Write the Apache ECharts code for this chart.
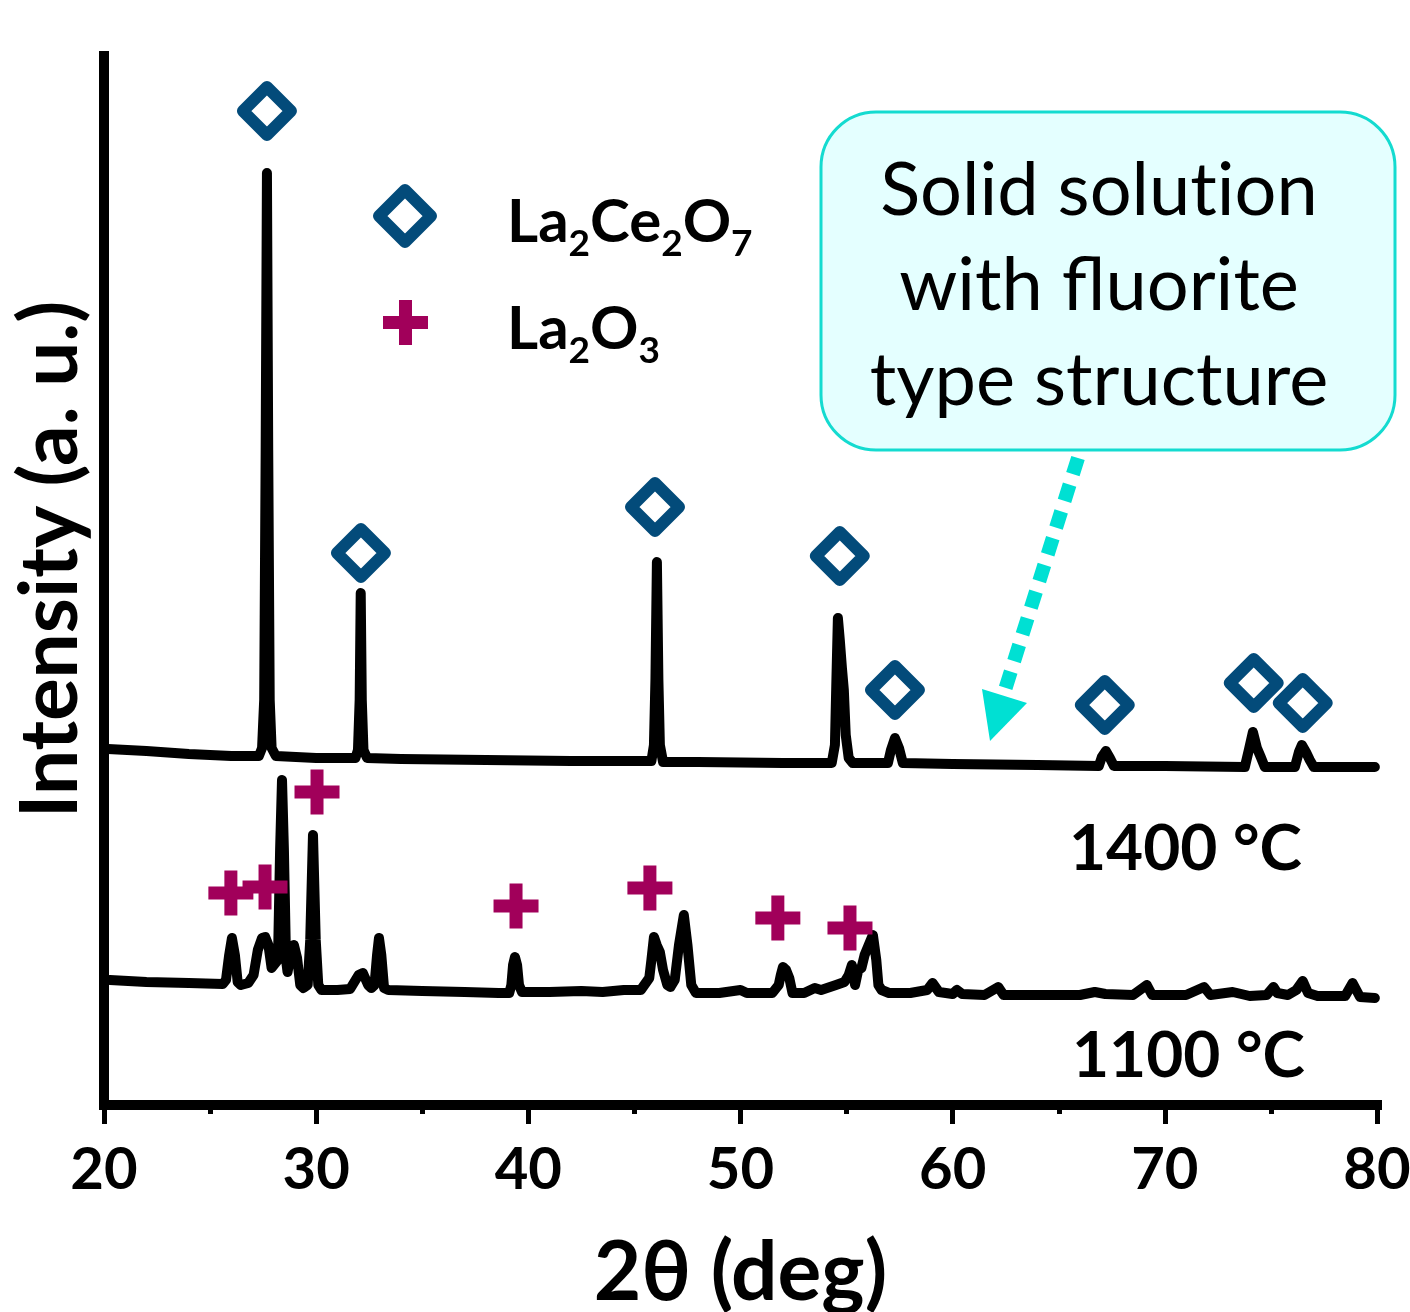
<!DOCTYPE html>
<html>
<head>
<meta charset="utf-8">
<script src="https://cdn.jsdelivr.net/npm/echarts@6/dist/echarts.min.js"></script>
<style>html,body{margin:0;padding:0;background:#fff}#c{width:1410px;height:1312px}</style>
</head>
<body>
<div id="c"></div>
<script>
// ---- data (2θ in degrees, intensity in arbitrary units) ----
const xTickLabels = ['20','30','40','50','60','70','80'];
const curve1400 = [
[20.19,356],[22.0,354],[24.0,351],[26.0,349],[27.3,349],[27.45,357],[27.55,405],[27.62,655],[27.68,932],[27.74,655],[27.81,405],[27.9,357],[28.1,349],
[30.0,347],[31.85,347],[31.97,355],[32.05,405],[32.1,512],[32.15,405],[32.23,355],[32.4,347],
[34.0,346],[38.0,345],[42.0,344],[45.8,344],[45.92,360],[45.99,425],[46.06,543],[46.13,425],[46.2,360],[46.35,343],
[48.0,343],[52.0,342],[54.3,342],[54.45,360],[54.52,425],[54.59,487],[54.68,465],[54.78,437],[54.87,415],[54.96,370],[55.1,347],[55.29,342],
[56.95,342],[57.09,355],[57.28,367],[57.47,357],[57.65,342],
[60.0,341],[64.0,340],[66.89,339],[67.03,348],[67.22,354],[67.41,347],[67.6,339],
[70.0,339],[73.77,338],[73.96,355],[74.15,373],[74.34,357],[74.52,348],[74.71,338],
[76.13,338],[76.32,353],[76.46,360],[76.65,353],[76.83,345],[77.02,338],[79.9,338]
];
const curve1100 = [
[20.28,125],[22.0,123],[24.0,122],[25.6,121],[25.75,125],[25.9,150],[26.03,167],[26.17,150],[26.3,123],[26.45,120],
[26.8,122],[27.05,130],[27.25,155],[27.45,167],[27.6,168],[27.75,160],[27.9,137],
[28.2,145],[28.3,255],[28.39,325],[28.48,255],[28.58,145],[28.65,133],[28.8,150],[28.95,160],[29.1,147],[29.25,120],[29.4,117],
[29.6,120],[29.72,165],[29.85,270],[29.98,165],[30.1,120],[30.25,115],
[31.0,115],[31.6,116],[32.0,130],[32.2,132],[32.45,120],[32.6,117],
[32.75,120],[32.87,150],[32.96,167],[33.07,150],[33.2,117],[33.4,115],
[35.0,114],[37.0,113],[38.6,112],[39.1,112],[39.2,120],[39.28,140],[39.37,148],[39.47,140],[39.56,120],[39.7,113],
[41.0,113],[42.5,114],[43.5,113],[44.5,115],[45.3,115],[45.7,127],[45.8,145],[45.92,168],[46.05,160],[46.2,153],[46.35,135],[46.55,120],[46.7,118],
[46.9,125],[47.1,160],[47.33,190],[47.5,160],[47.68,120],[47.9,112],
[49.0,112],[50.0,115],[50.3,112],[51.5,112],[51.8,120],[51.9,130],[52.0,138],[52.15,135],[52.3,127],[52.45,112],
[53.0,112],[53.5,117],[53.8,115],[54.5,120],[54.9,123],[55.1,130],[55.25,140],[55.4,120],[55.55,135],[55.7,137],[55.85,150],
[56.24,170],[56.4,145],[56.5,120],[56.65,115],[57.0,112],
[58.0,112],[58.8,115],[59.05,122],[59.35,113],[60.0,111],[60.2,115],[60.45,111],[61.5,110],[62.15,118],[62.4,110],
[64.0,110],[66.0,110],[66.7,113],[67.2,111],[68.5,110],[69.15,120],[69.4,110],[71.0,110],[71.85,118],[72.15,110],[73.2,113],
[74.0,109],[74.8,110],[75.0,115],[75.12,118],[75.3,112],[75.8,110],[76.2,115],[76.5,124],[76.75,112],[77.2,109],[78.5,109],[78.85,122],[79.2,108],[79.9,107]
];
const la2ce2o7Peaks = [[27.68,994],[32.11,552],[45.97,598],[54.68,549],[57.28,415],[67.17,400],[74.19,422],[76.50,402]];
const la2o3Peaks = [[25.98,212],[27.59,218],[30.04,313],[39.42,199],[45.73,217],[51.76,187],[55.16,177]];

const BLUE = '#034B7A', MAG = '#A1005A', CYAN = '#00E0D3';
const FONT = 'Lato, "Noto Sans", sans-serif';
const CROSS = 'path://M16,0H29V16H45V29H29V45H16V29H0V16H16Z';
const ZW = '\u200C';

const chart = echarts.init(document.getElementById('c'), null, {renderer:'canvas'});
chart.setOption({
  animation:false,
  backgroundColor:'#fff',
  grid:{left:104, right:33, top:56, bottom:207, containLabel:false, outerBoundsMode:'none'},
  xAxis:{
    type:'value', min:20, max:80, interval:10,
    name:'2θ (deg)', nameLocation:'middle', nameGap:128,
    nameTextStyle:{fontFamily:FONT, fontWeight:'bold', fontSize:82, color:'#000'},
    axisLine:{show:true, onZero:false, lineStyle:{color:'#000', width:10, cap:'square'}},
    axisTick:{show:true, inside:false, length:19, lineStyle:{color:'#000', width:5}},
    minorTick:{show:true, splitNumber:2, length:9, lineStyle:{color:'#000', width:5}},
    splitLine:{show:false},
    axisLabel:{margin:36, fontFamily:FONT, fontWeight:'bold', fontSize:58, color:'#000',
      formatter:(v)=>xTickLabels[Math.round((v-20)/10)]}
  },
  yAxis:{
    type:'value', min:0, max:1049,
    name:'Intensity (a. u.)', nameLocation:'middle', nameGap:13,
    nameTextStyle:{fontFamily:FONT, fontWeight:'bold', fontSize:80, color:'#000', padding:[0,0,0,42]},
    axisLine:{show:true, lineStyle:{color:'#000', width:10, cap:'square'}},
    axisTick:{show:false}, axisLabel:{show:false}, splitLine:{show:false}
  },
  series:[
    {name:'1400 °C', type:'line', data:curve1400, showSymbol:false, silent:true, z:2,
     lineStyle:{color:'#000', width:10, join:'round', cap:'round'}},
    {name:'1100 °C', type:'line', data:curve1100, showSymbol:false, silent:true, z:2,
     lineStyle:{color:'#000', width:10, join:'round', cap:'round'}},
    {name:'La2Ce2O7', type:'scatter', data:la2ce2o7Peaks, symbol:'diamond', symbolSize:48, silent:true, z:3,
     itemStyle:{color:'#fff', borderColor:BLUE, borderWidth:12, borderJoin:'round', opacity:1}},
    {name:'La2O3', type:'scatter', data:la2o3Peaks, symbol:CROSS, symbolSize:45, silent:true, z:3,
     itemStyle:{color:MAG, opacity:1}}
  ],
  graphic:[
    // legend
    {type:'polygon', shape:{points:[[405,190],[431,216],[405,242],[379,216]]}, style:{fill:'#fff', stroke:BLUE, lineWidth:12, lineJoin:'round'}},
    {type:'polygon', shape:{points:[[399,300],[412,300],[412,316],[428,316],[428,329],[412,329],[412,345],[399,345],[399,329],[383,329],[383,316],[399,316]]}, style:{fill:MAG}},
    {type:'text', left:507, top:193, style:{text:'{m|La}{s|2}{m|Ce}{s|2}{m|O}{s|7}', rich:{
      m:{fontFamily:FONT, fontWeight:'bold', fontSize:60, fill:'#000'},
      s:{fontFamily:FONT, fontWeight:'bold', fontSize:37, fill:'#000', padding:[42,0,0,0]}}}},
    {type:'text', left:507, top:300, style:{text:'{m|La}{s|2}{m|O}{s|3}', rich:{
      m:{fontFamily:FONT, fontWeight:'bold', fontSize:60, fill:'#000'},
      s:{fontFamily:FONT, fontWeight:'bold', fontSize:37, fill:'#000', padding:[42,0,0,0]}}}},
    // temperature labels
    {type:'text', left:1069, top:817, style:{text:'1400 °C', fontFamily:FONT, fontWeight:'bold', fontSize:64, fill:'#000'}},
    {type:'text', left:1072, top:1024, style:{text:'1100 °C', fontFamily:FONT, fontWeight:'bold', fontSize:64, fill:'#000'}},
    // callout
    {type:'rect', shape:{x:821, y:112, width:574, height:338, r:55}, style:{fill:'#E4FFFF', stroke:'#14DBD0', lineWidth:3}},
    {type:'text', x:1099, y:286, style:{text:'Solid solut'+ZW+'ion\nwith fluorite\ntype structure', fontFamily:FONT, fontSize:74, lineHeight:95,
      fill:'#000', align:'center', verticalAlign:'middle'}},
    {type:'line', shape:{x1:1078, y1:458, x2:1005, y2:690}, style:{stroke:CYAN, lineWidth:14, lineDash:[17,11]}},
    {type:'polygon', shape:{points:[[982,689],[1027,703],[990,741]]}, style:{fill:CYAN}}
  ]
});
</script>
</body>
</html>
